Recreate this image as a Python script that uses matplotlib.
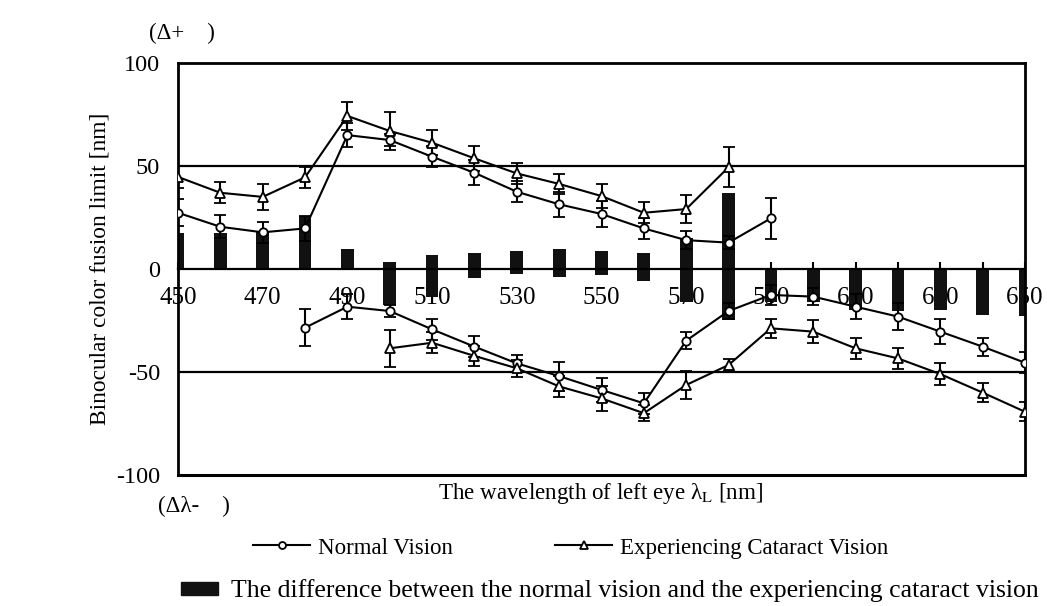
import numpy as np
import matplotlib
matplotlib.use("Agg")
import matplotlib.pyplot as plt
from matplotlib.lines import Line2D
from matplotlib.patches import Patch

plt.rcParams['font.family'] = ['Liberation Serif', 'DejaVu Serif']
plt.rcParams['mathtext.fontset'] = 'stix'
plt.rcParams['axes.unicode_minus'] = False

# %% data
wl = np.arange(450, 651, 10)

# upper limit (Δλ+)
wl_nv_pos = np.arange(450, 591, 10)
nv_pos = [27.3, 20.5, 17.8, 19.7, 65.0, 62.6, 54.5, 46.7, 37.5, 31.4, 26.7, 19.7, 14.0, 12.8, 24.6]
nv_pos_err = [6.5, 5.5, 5.0, 6.0, 6.0, 3.0, 5.0, 6.0, 5.0, 6.0, 6.5, 5.0, 4.5, 3.0, 10.0]

wl_cv_pos = np.arange(450, 581, 10)
cv_pos = [44.7, 37.0, 35.0, 44.5, 74.3, 67.0, 61.3, 53.7, 46.4, 41.3, 35.4, 27.3, 29.1, 49.4]
cv_pos_err = [5.5, 5.0, 6.5, 5.0, 7.0, 9.0, 6.0, 6.0, 5.0, 5.0, 6.0, 5.0, 6.7, 9.7]

# lower limit (Δλ-)
wl_nv_neg = np.arange(480, 651, 10)
nv_neg = [-28.5, -18.3, -20.4, -29.3, -37.7, -45.8, -52.0, -58.7, -65.2, -34.8, -20.4,
          -12.6, -13.4, -18.3, -23.1, -30.4, -37.7, -45.5]
nv_neg_err = [9.0, 6.0, 3.0, 5.0, 5.0, 4.0, 7.0, 6.0, 5.0, 4.0, 4.0,
              5.0, 4.0, 6.0, 6.5, 6.0, 4.3, 5.0]

wl_cv_neg = np.arange(500, 651, 10)
cv_neg = [-38.5, -35.8, -42.2, -48.2, -57.0, -62.8, -70.0, -56.3, -46.6,
          -28.8, -30.4, -38.5, -43.4, -51.0, -60.0, -69.3]
cv_neg_err = [9.0, 5.0, 5.0, 4.0, 5.0, 6.0, 4.0, 7.0, 3.0,
              4.5, 5.5, 5.0, 5.0, 5.5, 4.7, 4.5]

# difference bars
diff_pos = [17.3, 17.3, 17.8, 25.7, 9.7, 3.5, 6.8, 7.9, 8.7, 9.7, 8.7, 7.6, 14.9, 36.7,
            0, 0, 0, 0, 0, 0, 0]
diff_neg = [0, 0, 0, 0, 0, -17.5, -13.4, -4.5, -2.4, -3.7, -2.9, -5.7, -15.9, -24.8,
            -16.0, -15.9, -19.9, -20.3, -19.9, -22.3, -23.0]

# %%
fig = plt.figure(figsize=(10.47, 6.06), dpi=100)
ax = fig.add_axes([178 / 1047, 1 - 475 / 606, 847 / 1047, 412 / 606])

ax.bar(wl, diff_pos, width=3, color='#111111', zorder=2)
ax.bar(wl, diff_neg, width=3, color='#111111', zorder=2)

ax.axhline(50, color='black', lw=1.6, zorder=1)
ax.axhline(-50, color='black', lw=1.6, zorder=1)
ax.axhline(-100, color='black', lw=2.2, zorder=5, clip_on=False)

err_kw = dict(color='black', lw=1.5, elinewidth=1.5, capsize=4, capthick=1.5,
              markerfacecolor='white', markeredgecolor='black', markeredgewidth=1.3, zorder=4)
ax.errorbar(wl_nv_pos, nv_pos, yerr=nv_pos_err, marker='o', ms=6, **err_kw)
ax.errorbar(wl_nv_neg, nv_neg, yerr=nv_neg_err, marker='o', ms=6, **err_kw)
ax.errorbar(wl_cv_pos, cv_pos, yerr=cv_pos_err, marker='^', ms=7, **err_kw)
ax.errorbar(wl_cv_neg, cv_neg, yerr=cv_neg_err, marker='^', ms=7, **err_kw)

ax.set_xlim(450, 650)
ax.set_ylim(-100, 100)
ax.spines['bottom'].set_position(('data', 0))
for s in ax.spines.values():
    s.set_linewidth(2.0)
ax.spines['bottom'].set_linewidth(1.6)

ax.set_xticks(np.arange(450, 651, 20))
ax.set_xticks(np.arange(450, 651, 10), minor=True)
ax.tick_params(axis='x', which='both', direction='in', length=5, width=1.5, labelsize=18, pad=13)
ax.set_yticks([-100, -50, 0, 50, 100])
ax.tick_params(axis='y', length=0, labelsize=17.5, pad=13)

fig.text(100 / 1047, 1 - 269 / 606, 'Binocular color fusion limit [nm]', rotation=90,
         ha='center', va='center', fontsize=16.8)
fig.text(601 / 1047, 1 - 493 / 606, r'The wavelength of left eye λ$_{\mathrm{L}}$ [nm]',
         ha='center', va='center', fontsize=16.6)
fig.text(149 / 1047, 1 - 33 / 606, '(Δ+    )', ha='left', va='center', fontsize=16.5)
fig.text(158 / 1047, 1 - 506 / 606, '(Δλ-    )', ha='left', va='center', fontsize=16.5)

h1 = Line2D([], [], color='black', lw=1.5, marker='o', ms=5, mfc='white', mec='black', mew=1.3)
h2 = Line2D([], [], color='black', lw=1.5, marker='^', ms=6, mfc='white', mec='black', mew=1.3)
leg_kw = dict(loc='center left', frameon=False, borderpad=0, borderaxespad=0, fontsize=16.5,
              handlelength=2.5, handletextpad=0.35)
fig.legend([h1], ['Normal Vision'], bbox_to_anchor=(253 / 1047, 1 - 548 / 606), **leg_kw)
fig.legend([h2], ['Experiencing Cataract Vision'], bbox_to_anchor=(555 / 1047, 1 - 548 / 606),
           **leg_kw)
fig.legend([Patch(color='#111111')],
           ['The difference between the normal vision and the experiencing cataract vision'],
           loc='center left', bbox_to_anchor=(181 / 1047, 1 - 591 / 606), frameon=False,
           borderpad=0, borderaxespad=0, fontsize=18.5, handlelength=1.44, handleheight=0.43,
           handletextpad=0.52)

fig.savefig('out.png', dpi=100)
